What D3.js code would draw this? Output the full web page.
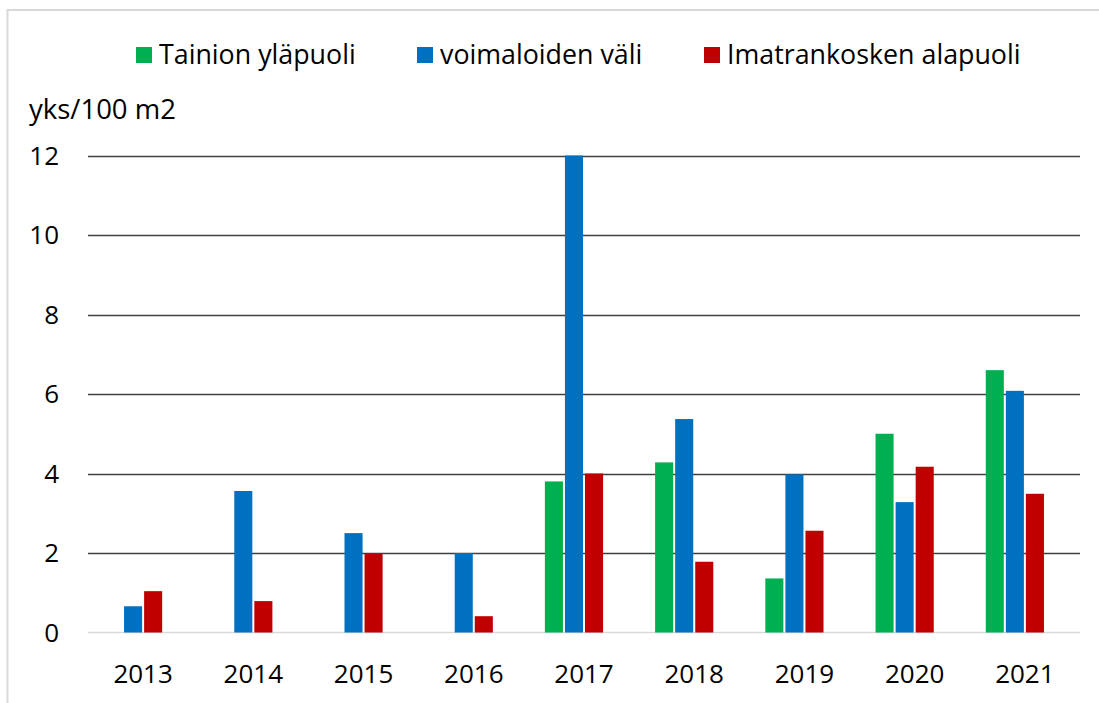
<!DOCTYPE html>
<html>
<head>
<meta charset="utf-8">
<script src="https://cdn.jsdelivr.net/npm/d3@7"></script>
<style>
  body { margin: 0; background: #fff; }
  text { font-family: "Open Sans", sans-serif; fill: #000; }
</style>
</head>
<body>
<div id="chart"></div>
<script>
// vuodet ja sarjat (yks/100 m2)
var years = ["2013","2014","2015","2016","2017","2018","2019","2020","2021"];
var seriesNames = ["Tainion yläpuoli","voimaloiden väli","Imatrankosken alapuoli"];
var tainion = [null,null,null,null,3.8,4.28,1.36,5.0,6.6];
var voimalat = [0.66,3.56,2.5,2.0,12.0,5.37,3.98,3.28,6.08];
var imatra = [1.04,0.79,1.98,0.41,4.0,1.78,2.56,4.17,3.49];
var yTicks = [0,2,4,6,8,10,12];
var colors = ["#00b050","#0070c0","#c00000"];

var width = 1099, height = 703;

var svg = d3.select("#chart")
    .append("svg")
    .attr("width", width)
    .attr("height", height);

// kehys (vain ylä- ja vasen reuna näkyvät kuvassa)
svg.append("rect")
    .attr("x", 7.5).attr("y", 10)
    .attr("width", 1200).attr("height", 800)
    .attr("fill", "none")
    .attr("stroke", "#d9d9d9")
    .attr("stroke-width", 2);

var x0 = d3.scaleBand()
    .domain(years)
    .range([88, 1080])
    .paddingInner(0.29)
    .paddingOuter(0.145);

// Excel jätti tilaa neljännelle, tyhjälle sarjalle
var x1 = d3.scaleBand()
    .domain(seriesNames.concat(["_tyhjä"]))
    .range([0, x0.bandwidth()])
    .paddingInner(0.1);

var y = d3.scaleLinear()
    .domain([0, 12])
    .range([632.5, 155.5]);

var table = years.map(function(yr, i) {
  return {year: yr, values: [tainion[i], voimalat[i], imatra[i]]};
});

// vaakaviivat
svg.append("g")
  .selectAll("line")
  .data(yTicks.filter(function(d){ return d > 0; }))
  .enter().append("line")
    .attr("x1", 88).attr("x2", 1080)
    .attr("y1", function(d){ return Math.round(y(d)) + 0.5; })
    .attr("y2", function(d){ return Math.round(y(d)) + 0.5; })
    .attr("stroke", "#404040")
    .attr("stroke-width", 1.3);

svg.append("line")
    .attr("x1", 88).attr("x2", 1080)
    .attr("y1", y(0)).attr("y2", y(0))
    .attr("stroke", "#d9d9d9")
    .attr("stroke-width", 1.5);

// y-akselin luvut
svg.append("g")
  .selectAll("text")
  .data(yTicks)
  .enter().append("text")
    .attr("x", 59)
    .attr("y", function(d){ return y(d); })
    .attr("dy", "0.36em")
    .attr("text-anchor", "end")
    .style("font-size", "26px")
    .text(function(d){ return d; });

svg.append("text")
    .attr("x", 29).attr("y", 119)
    .style("font-size", "27.5px")
    .text("yks/100 m2");

// pylväät
var groups = svg.append("g")
  .selectAll("g")
  .data(table)
  .enter().append("g")
    .attr("transform", function(d){ return "translate(" + x0(d.year) + ",0)"; });

groups.selectAll("rect")
  .data(function(d){
    return d.values.map(function(v, j){ return {name: seriesNames[j], value: v, j: j}; })
      .filter(function(e){ return e.value != null; });
  })
  .enter().append("rect")
    .attr("x", function(d){ return x1(d.name); })
    .attr("y", function(d){ return y(d.value); })
    .attr("width", x1.bandwidth())
    .attr("height", function(d){ return y(0) - y(d.value); })
    .attr("fill", function(d){ return colors[d.j]; });

// x-akselin vuodet
svg.append("g")
  .selectAll("text")
  .data(years)
  .enter().append("text")
    .attr("x", function(d){ return x0(d) + x0.bandwidth() / 2; })
    .attr("y", 683)
    .attr("text-anchor", "middle")
    .style("font-size", "26px")
    .text(function(d){ return d; });

// selite
var legendX = [136, 417, 704];
var legend = svg.append("g")
  .selectAll("g")
  .data(seriesNames)
  .enter().append("g")
    .attr("transform", function(d, i){ return "translate(" + legendX[i] + ",47)"; });

legend.append("rect")
    .attr("width", 16)
    .attr("height", 16)
    .attr("fill", function(d, i){ return colors[i]; });

legend.append("text")
    .attr("x", 23)
    .attr("y", 17)
    .style("font-size", "26.8px")
    .text(function(d){ return d; });
</script>
</body>
</html>
